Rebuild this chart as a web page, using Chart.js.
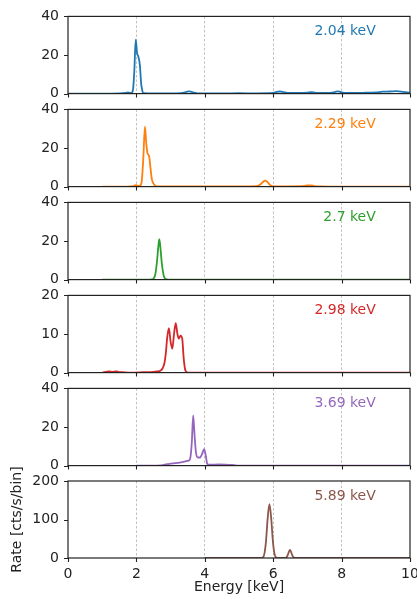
<!DOCTYPE html>
<html><head><meta charset="utf-8">
<script src="https://cdn.jsdelivr.net/npm/chart.js@4"></script>
<style>
html,body{margin:0;padding:0;background:#fff;overflow:hidden;width:417px;height:599px;}
#wrap{position:relative;width:417px;height:599px;overflow:hidden;background:#fff;}
canvas{position:absolute;left:0;}
</style></head><body><div id="wrap"></div>
<script>
// ---- data ----
const xTickValues = [0, 2, 4, 6, 8, 10];
const peakLabels = ['2.04 keV', '2.29 keV', '2.7 keV', '2.98 keV', '3.69 keV', '5.89 keV'];
const seriesColors = ['#1f77b4', '#ff7f0e', '#2ca02c', '#d62728', '#9467bd', '#8c564b'];
const yMaxes = [40, 40, 40, 20, 40, 200];
const ySteps = [20, 20, 20, 10, 20, 100];

const energy1 = [0, 0.5, 1.0, 1.5, 1.7, 1.75, 1.8, 1.85, 1.9, 1.94, 1.98, 2.02, 2.06, 2.1, 2.14, 2.18, 2.22, 2.5, 3.0, 3.3, 3.45, 3.55, 3.65, 3.8, 4.5, 5.0, 5.5, 6.0, 6.1, 6.2, 6.3, 6.45, 6.7, 7.0, 7.1, 7.25, 7.6, 7.8, 7.9, 8.0, 8.2, 8.6, 9.0, 9.2, 9.4, 9.6, 9.8, 10.0];
const rate1   = [0, 0, 0, 0.1, 0.4, 0.6, 0.4, 0.3, 2, 12, 28, 21, 19, 15, 5, 1, 0.2, 0.1, 0.1, 0.3, 0.8, 1.2, 0.7, 0.1, 0.1, 0.2, 0.1, 0.3, 0.9, 1.1, 0.8, 0.3, 0.3, 0.5, 0.8, 0.4, 0.3, 0.8, 1.2, 0.6, 0.3, 0.4, 0.6, 1.0, 1.1, 1.3, 0.9, 0.4];

const energy2 = [1.0, 1.5, 1.9, 1.95, 2.0, 2.05, 2.1, 2.15, 2.2, 2.25, 2.29, 2.33, 2.37, 2.41, 2.45, 2.5, 2.55, 2.6, 3.0, 4.0, 5.0, 5.5, 5.6, 5.7, 5.76, 5.82, 5.9, 5.98, 6.1, 6.5, 6.9, 7.0, 7.1, 7.2, 7.4, 8.0, 9.0, 10.0];
const rate2   = [0, 0, 0.3, 0.6, 0.7, 0.4, 0.5, 2, 14, 31, 22, 17, 16, 10, 4, 1.5, 0.4, 0.1, 0.1, 0.1, 0.1, 0.2, 0.8, 2.4, 3.1, 2.6, 1.0, 0.2, 0.1, 0.1, 0.3, 0.6, 0.6, 0.3, 0.1, 0, 0, 0];

const energy3 = [1.0, 2.0, 2.4, 2.45, 2.5, 2.55, 2.6, 2.64, 2.67, 2.7, 2.74, 2.8, 2.85, 2.9, 3.0, 4.0, 6.0, 8.0, 10.0];
const rate3   = [0, 0, 0, 0.1, 0.5, 2.5, 9, 17, 21, 17, 9, 2, 0.4, 0.1, 0, 0, 0, 0, 0];

const energy4 = [1.0, 1.1, 1.2, 1.3, 1.4, 1.5, 1.6, 1.8, 2.2, 2.5, 2.6, 2.7, 2.76, 2.82, 2.86, 2.9, 2.95, 3.0, 3.05, 3.1, 3.15, 3.2, 3.24, 3.29, 3.34, 3.38, 3.42, 3.46, 3.5, 4.0, 6.0, 8.0, 10.0];
const rate4   = [0, 0.2, 0.3, 0.15, 0.3, 0.15, 0.1, 0, 0.1, 0.2, 0.3, 0.5, 1, 2.5, 5, 9, 11.5, 8, 6.2, 10, 12.8, 10, 8.8, 9.6, 8.8, 4, 1, 0.2, 0, 0, 0, 0, 0];

const energy5 = [2.0, 2.5, 2.7, 2.8, 2.9, 3.0, 3.1, 3.2, 3.3, 3.4, 3.5, 3.57, 3.62, 3.66, 3.7, 3.74, 3.8, 3.86, 3.92, 3.98, 4.03, 4.07, 4.12, 4.2, 4.4, 4.6, 4.8, 4.9, 5.0, 6.0, 8.0, 10.0];
const rate5   = [0, 0, 0.1, 0.4, 0.7, 1.0, 1.2, 1.4, 1.7, 2.0, 2.4, 3.5, 12, 26, 16, 7, 4.2, 4.2, 6, 8.5, 5, 1, 0.5, 0.5, 0.6, 0.5, 0.3, 0.1, 0, 0, 0, 0];

const energy6 = [4.0, 5.0, 5.6, 5.69, 5.74, 5.79, 5.84, 5.89, 5.94, 5.99, 6.04, 6.09, 6.15, 6.3, 6.38, 6.43, 6.49, 6.55, 6.6, 6.7, 7.0, 8.0, 10.0];
const rate6   = [0, 0, 0, 1, 10, 44, 105, 140, 105, 44, 10, 1, 0, 0, 1, 9, 21, 9, 1, 0, 0, 0, 0];

const energies = [energy1, energy2, energy3, energy4, energy5, energy6];
const rates = [rate1, rate2, rate3, rate4, rate5, rate6];

// ---- layout ----
const panelTops = [16, 109, 202, 295, 388, 481];
const panelH = 77;
const canvasW = 440;
const axisLeft = 68, axisRight = 410;
const tickLen = 4;

Chart.defaults.font.family = '"DejaVu Sans", sans-serif';
Chart.defaults.font.size = 14;
Chart.defaults.color = '#222';

const framePlugin = {
  id: 'frame',
  afterDatasetsDraw(chart, args, opts) {
    const {ctx, chartArea: a, scales} = chart;
    ctx.save();
    ctx.font = '14px "DejaVu Sans", sans-serif';
    ctx.fillStyle = opts.color;
    ctx.textAlign = 'right';
    ctx.textBaseline = 'middle';
    ctx.fillText(opts.label, a.left + 0.9 * (a.right - a.left), a.top + 0.2 * (a.bottom - a.top));
    ctx.strokeStyle = '#222';
    ctx.lineWidth = 1.2;
    ctx.strokeRect(a.left, a.top, a.right - a.left, a.bottom - a.top);
    // outward tick marks
    ctx.lineWidth = 1.1;
    ctx.beginPath();
    scales.x.ticks.forEach(t => {
      const px = Math.round(scales.x.getPixelForValue(t.value)) + 0.5;
      ctx.moveTo(px, a.bottom); ctx.lineTo(px, a.bottom + tickLen);
    });
    scales.y.ticks.forEach(t => {
      const py = Math.round(scales.y.getPixelForValue(t.value)) + 0.5;
      ctx.moveTo(a.left, py); ctx.lineTo(a.left - tickLen, py);
    });
    ctx.stroke();
    ctx.restore();
  }
};

function buildConfig(i, topPad, bottomH) {
  const last = i === 5;
  const pts = energies[i].map((e, k) => ({x: e, y: rates[i][k]}));
  return {
    type: 'line',
    data: { datasets: [{ data: pts, borderColor: seriesColors[i], borderWidth: 1.8, pointRadius: 0, fill: false, cubicInterpolationMode: 'monotone', tension: 0.4 }] },
    options: {
      responsive: false, maintainAspectRatio: false, animation: false, devicePixelRatio: 1,
      layout: { padding: { top: topPad, left: 0, right: canvasW - axisRight, bottom: 0 } },
      plugins: { legend: { display: false }, tooltip: { enabled: false }, frame: { label: peakLabels[i], color: seriesColors[i] } },
      scales: {
        x: {
          type: 'linear', min: 0, max: 10,
          afterBuildTicks: s => { s.ticks = xTickValues.map(v => ({value: v})); },
          afterFit: s => { s.height = bottomH; },
          ticks: { display: last, padding: 8, color: '#222', font: {size: 14} },
          grid: {
            color: c => (c.tick && c.tick.value > 0 && c.tick.value < 10) ? '#b0b0b0' : 'rgba(0,0,0,0)',
            lineWidth: 0.8, drawTicks: false
          },
          border: { display: false, dash: [2.5, 2] },
          title: { display: last, text: 'Energy [keV]', color: '#222', font: {size: 14}, padding: {top: 0, bottom: 3} }
        },
        y: {
          min: 0, max: yMaxes[i],
          ticks: { stepSize: ySteps[i], padding: 9, color: '#222', font: {size: 14} },
          afterFit: s => { s.width = axisLeft; },
          grid: { drawOnChartArea: false, drawTicks: false },
          border: { display: false },
          title: { display: last, text: 'Rate [cts/s/bin]', color: '#222', font: {size: 14}, padding: {top: 9, bottom: 0} }
        }
      }
    },
    plugins: [framePlugin]
  };
}

const wrap = document.getElementById('wrap');
for (let i = 0; i < 6; i++) {
  const last = i === 5;
  const topPad = last ? 41 : 10;
  const bottomH = last ? 41 : 8;
  let cH = topPad + panelH + bottomH;
  let cv, chart;
  for (let pass = 0; pass < 4; pass++) {
    if (chart) { chart.destroy(); cv.remove(); }
    cv = document.createElement('canvas');
    cv.width = canvasW; cv.height = cH;
    cv.style.width = canvasW + 'px'; cv.style.height = cH + 'px';
    wrap.appendChild(cv);
    chart = new Chart(cv, buildConfig(i, topPad, bottomH));
    const a = chart.chartArea;
    const diff = Math.round(panelH - (a.bottom - a.top));
    if (diff === 0) break;
    cH += diff;
  }
  cv.style.top = (panelTops[i] - chart.chartArea.top) + 'px';
}
</script></body></html>
